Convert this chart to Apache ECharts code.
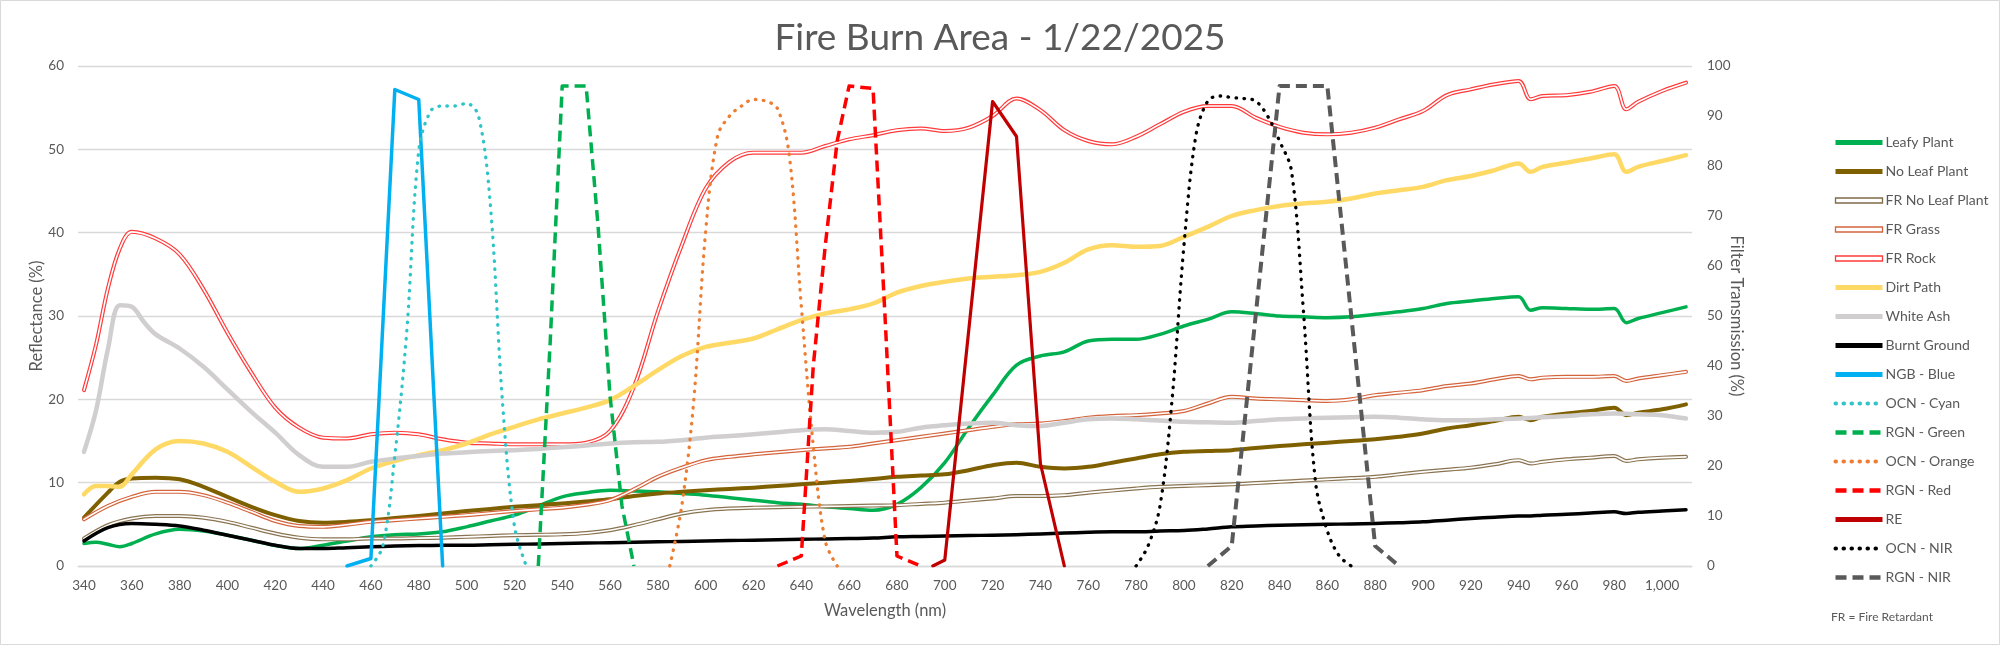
<!DOCTYPE html>
<html>
<head>
<meta charset="utf-8">
<script src="https://cdn.jsdelivr.net/npm/echarts@6/dist/echarts.min.js"></script>
<style>
html,body{margin:0;padding:0;background:#fff;}
#chart{width:2000px;height:645px;}
</style>
</head>
<body>
<div id="chart"></div>
<script>
// ---------- categories (wavelength, nm) ----------
const wavelengths = [];
for (let w = 340; w <= 1010; w += 5) wavelengths.push(String(w));

// ---------- reflectance series (%), [nm, value] ----------
const leafyPlant = [[340,2.7],[345,2.85],[350,2.6],[355,2.3],[360,2.7],[370,3.85],[380,4.4],[390,4.2],[400,3.7],[410,3.1],[420,2.45],[430,2.1],[440,2.5],[450,3.0],[460,3.5],[470,3.75],[480,3.85],[490,4.1],[500,4.7],[510,5.4],[520,6.1],[530,7.2],[540,8.3],[550,8.8],[560,9.1],[570,9.0],[580,8.9],[590,8.7],[600,8.5],[610,8.2],[620,7.9],[630,7.6],[640,7.4],[650,7.1],[660,6.9],[670,6.7],[680,7.4],[690,9.4],[700,12.4],[710,16.6],[720,20.5],[730,24.1],[740,25.2],[750,25.7],[760,27.0],[770,27.2],[780,27.2],[790,27.8],[800,28.8],[810,29.6],[820,30.5],[830,30.3],[840,30.0],[850,29.9],[860,29.8],[870,29.9],[880,30.2],[890,30.5],[900,30.9],[910,31.5],[920,31.8],[930,32.1],[940,32.3],[945,30.7],[950,31.0],[960,30.9],[970,30.8],[980,30.9],[985,29.2],[990,29.7],[1000,30.4],[1010,31.1]];
const noLeafPlant = [[340,5.8],[350,8.8],[355,10.1],[360,10.5],[370,10.6],[380,10.4],[390,9.5],[400,8.3],[410,7.1],[420,6.1],[430,5.4],[440,5.2],[450,5.3],[460,5.5],[470,5.75],[480,6.0],[490,6.3],[500,6.6],[510,6.85],[520,7.1],[530,7.3],[540,7.5],[550,7.75],[560,8.0],[570,8.4],[580,8.7],[590,8.9],[600,9.1],[610,9.25],[620,9.4],[630,9.6],[640,9.8],[650,10.0],[660,10.2],[670,10.45],[680,10.7],[690,10.85],[700,11.0],[710,11.5],[720,12.1],[730,12.4],[740,11.9],[750,11.7],[760,11.9],[770,12.4],[780,12.9],[790,13.4],[800,13.7],[810,13.8],[820,13.9],[830,14.15],[840,14.4],[850,14.6],[860,14.8],[870,15.0],[880,15.2],[890,15.5],[900,15.9],[910,16.5],[920,16.9],[930,17.4],[940,17.9],[945,17.5],[950,17.9],[960,18.3],[970,18.6],[980,19.0],[985,18.1],[990,18.4],[1000,18.8],[1010,19.4]];
const frNoLeafPlant = [[340,3.3],[350,4.9],[360,5.7],[370,6.0],[380,6.0],[390,5.8],[400,5.3],[410,4.6],[420,3.9],[430,3.4],[440,3.2],[450,3.2],[460,3.3],[470,3.3],[480,3.35],[490,3.4],[500,3.5],[510,3.6],[520,3.7],[530,3.75],[540,3.8],[550,3.95],[560,4.3],[570,4.9],[580,5.6],[590,6.3],[600,6.7],[610,6.9],[620,7.0],[630,7.05],[640,7.1],[650,7.15],[660,7.2],[670,7.25],[680,7.3],[690,7.45],[700,7.6],[710,7.85],[720,8.1],[730,8.4],[740,8.4],[750,8.5],[760,8.8],[770,9.05],[780,9.3],[790,9.5],[800,9.6],[810,9.7],[820,9.8],[830,9.95],[840,10.1],[850,10.25],[860,10.4],[870,10.55],[880,10.7],[890,11.0],[900,11.3],[910,11.55],[920,11.8],[930,12.2],[940,12.7],[945,12.3],[950,12.5],[960,12.8],[970,13.0],[980,13.2],[985,12.6],[990,12.8],[1000,13.0],[1010,13.1]];
const frGrass = [[340,5.6],[350,7.2],[360,8.3],[370,8.9],[380,8.9],[390,8.5],[400,7.6],[410,6.5],[420,5.4],[430,4.8],[440,4.7],[450,4.95],[460,5.3],[470,5.5],[480,5.7],[490,5.9],[500,6.1],[510,6.35],[520,6.6],[530,6.8],[540,7.0],[550,7.35],[560,7.9],[570,9.2],[580,10.7],[590,11.8],[600,12.7],[610,13.1],[620,13.4],[630,13.65],[640,13.9],[650,14.1],[660,14.3],[670,14.7],[680,15.1],[690,15.5],[700,15.9],[710,16.3],[720,16.7],[730,17.0],[740,17.1],[750,17.4],[760,17.8],[770,18.0],[780,18.1],[790,18.3],[800,18.6],[810,19.5],[820,20.3],[830,20.1],[840,20.0],[850,19.9],[860,19.8],[870,20.0],[880,20.5],[890,20.8],[900,21.1],[910,21.6],[920,21.9],[930,22.4],[940,22.8],[945,22.4],[950,22.6],[960,22.7],[970,22.7],[980,22.8],[985,22.2],[990,22.5],[1000,22.9],[1010,23.3]];
const frRock = [[340,21.1],[345,26.5],[350,33.3],[355,38.1],[360,40.1],[370,39.3],[380,37.4],[390,33.2],[400,28.0],[410,23.2],[420,19.0],[430,16.6],[440,15.4],[450,15.3],[460,15.8],[470,16.0],[480,15.8],[490,15.2],[500,14.8],[510,14.7],[520,14.6],[530,14.6],[540,14.6],[550,14.8],[560,16.2],[570,21.5],[580,30.5],[590,38.5],[600,45.3],[610,48.5],[620,49.6],[630,49.6],[640,49.6],[650,50.4],[660,51.2],[670,51.7],[680,52.3],[690,52.5],[700,52.2],[710,52.6],[720,54.0],[730,56.1],[740,54.7],[750,52.3],[760,51.0],[770,50.6],[780,51.5],[790,53.0],[800,54.5],[810,55.2],[820,55.2],[830,53.8],[840,52.7],[850,52.0],[860,51.8],[870,52.0],[880,52.6],[890,53.6],[900,54.6],[910,56.5],[920,57.2],[930,57.8],[940,58.2],[945,56.0],[950,56.4],[960,56.5],[970,56.9],[980,57.6],[985,54.8],[990,55.7],[1000,57.0],[1010,58.0]];
const dirtPath = [[340,8.6],[345,9.6],[350,9.6],[355,9.5],[360,11.0],[370,14.0],[380,15.0],[390,14.7],[400,13.7],[410,11.9],[420,10.1],[430,8.9],[440,9.3],[450,10.3],[460,11.7],[470,12.6],[480,13.3],[490,13.9],[500,14.7],[510,15.8],[520,16.7],[530,17.6],[540,18.3],[550,19.0],[560,19.9],[570,21.6],[580,23.5],[590,25.2],[600,26.3],[610,26.8],[620,27.3],[630,28.4],[640,29.5],[650,30.3],[660,30.8],[670,31.5],[680,32.8],[690,33.6],[700,34.1],[710,34.5],[720,34.7],[730,34.9],[740,35.3],[750,36.4],[760,38.0],[770,38.5],[780,38.3],[790,38.4],[800,39.5],[810,40.7],[820,42.0],[830,42.7],[840,43.2],[850,43.5],[860,43.7],[870,44.1],[880,44.7],[890,45.1],[900,45.5],[910,46.3],[920,46.8],[930,47.5],[940,48.3],[945,47.3],[950,47.9],[960,48.4],[970,48.9],[980,49.4],[985,47.3],[990,47.9],[1000,48.6],[1010,49.3]];
const whiteAsh = [[340,13.7],[345,18.6],[350,26.0],[355,31.3],[360,31.1],[365,29.3],[370,27.8],[380,26.1],[390,23.9],[400,21.2],[410,18.5],[420,16.0],[430,13.3],[440,11.9],[450,11.9],[460,12.5],[470,12.9],[480,13.2],[490,13.5],[500,13.65],[510,13.8],[520,13.9],[530,14.05],[540,14.25],[550,14.45],[560,14.7],[570,14.85],[580,14.9],[590,15.1],[600,15.4],[610,15.6],[620,15.8],[630,16.05],[640,16.3],[650,16.4],[660,16.2],[670,16.0],[680,16.1],[690,16.6],[700,16.9],[710,17.1],[720,17.2],[730,16.9],[740,16.8],[750,17.2],[760,17.6],[770,17.7],[780,17.6],[790,17.45],[800,17.3],[810,17.25],[820,17.2],[830,17.4],[840,17.6],[850,17.7],[860,17.8],[870,17.85],[880,17.9],[890,17.8],[900,17.6],[910,17.5],[920,17.5],[930,17.6],[940,17.7],[950,17.85],[960,18.0],[970,18.2],[980,18.3],[990,18.2],[1000,18.1],[1010,17.7]];
const burntGround = [[340,3.0],[350,4.6],[360,5.1],[370,5.0],[380,4.8],[390,4.3],[400,3.7],[410,3.1],[420,2.5],[430,2.1],[440,2.1],[450,2.2],[460,2.3],[470,2.4],[480,2.45],[490,2.5],[500,2.5],[510,2.55],[520,2.6],[530,2.65],[540,2.7],[550,2.75],[560,2.8],[570,2.85],[580,2.9],[590,2.95],[600,3.0],[610,3.05],[620,3.1],[630,3.15],[640,3.2],[650,3.25],[660,3.3],[670,3.35],[680,3.5],[690,3.55],[700,3.6],[710,3.65],[720,3.7],[730,3.75],[740,3.85],[750,3.95],[760,4.05],[770,4.1],[780,4.1],[790,4.2],[800,4.25],[810,4.45],[820,4.7],[830,4.8],[840,4.9],[850,4.95],[860,5.0],[870,5.05],[880,5.1],[890,5.2],[900,5.3],[910,5.5],[920,5.7],[930,5.85],[940,6.0],[945,6.0],[950,6.1],[960,6.2],[970,6.35],[980,6.5],[985,6.3],[990,6.45],[1000,6.6],[1010,6.75]];

// ---------- filter transmission series (%), [nm, value] ----------
const ngbBlue = [[450,0],[460,1.5],[470,95.3],[480,93.3],[490,0]];
const ocnCyan = [[460,0],[465,4],[470,22],[475,47],[480,83],[485,91],[490,92],[495,92],[500,92.5],[505,90],[510,72],[515,33],[520,8],[525,0]];
const rgnGreen = [[530,0],[535,45],[540,96],[545,96],[550,96],[555,68],[560,34],[565,12],[570,0]];
const ocnOrange = [[585,0],[590,12],[595,33],[600,67],[605,86],[610,90],[615,92],[620,93.3],[625,93],[630,91.5],[635,82],[640,52],[645,24],[650,5],[655,0]];
const rgnRed = [[630,0],[640,2],[645,40],[650,64],[655,85],[660,96],[670,95.5],[675,50],[680,2],[690,0]];
const reBand = [[695,0],[700,1.2],[720,92.9],[730,85.9],[740,20.5],[750,0]];
const ocnNir = [[780,0],[785,4],[790,12],[795,33],[800,64],[805,86],[810,93],[815,94],[820,93.7],[825,93.5],[830,93],[835,90],[840,85],[845,79],[850,51],[855,17],[860,7],[865,2],[870,0]];
const rgnNir = [[810,0],[820,4],[840,96],[850,96],[860,96],[880,4],[890,0]];

// ---------- tick labels ----------
const leftTicks = [0, 10, 20, 30, 40, 50, 60];
const rightTicks = [0, 10, 20, 30, 40, 50, 60, 70, 80, 90, 100];

const FONT = 'Lato, "Open Sans", sans-serif';
const GREY = '#595959';
const toCat = arr => arr.map(p => [String(p[0]), p[1]]);

function line(name, data, color, width, opts) {
  opts = opts || {};
  return Object.assign({
    name: name,
    type: 'line',
    data: toCat(data),
    yAxisIndex: opts.yAxisIndex || 0,
    showSymbol: false,
    symbol: 'none',
    smooth: opts.smooth === undefined ? 0.35 : opts.smooth,
    lineStyle: Object.assign({ color: color, width: width, cap: 'round', join: 'round' }, opts.lineStyle || {}),
    itemStyle: { color: color },
    emphasis: { disabled: true },
    animation: false,
    z: opts.z || 2
  }, opts.extra || {});
}
function inner(name, data, width) {
  return line(name + '\u200b', data, '#ffffff', width, { extra: { silent: true, legendHoverLink: false } });
}

const DOT = [0.5, 7.5];
const DASH = [11, 6];

const series = [
  line('Leafy Plant', leafyPlant, '#00b050', 3.5),
  line('No Leaf Plant', noLeafPlant, '#7f6000', 4),
  line('FR No Leaf Plant', frNoLeafPlant, '#8a7350', 4),
  inner('FR No Leaf Plant', frNoLeafPlant, 1.6),
  line('FR Grass', frGrass, '#d4643c', 4),
  inner('FR Grass', frGrass, 1.6),
  line('FR Rock', frRock, '#ff3b3b', 4),
  inner('FR Rock', frRock, 1.6),
  line('Dirt Path', dirtPath, '#ffd966', 4.5),
  line('White Ash', whiteAsh, '#d0cece', 4.5),
  line('Burnt Ground', burntGround, '#000000', 3.5),
  line('NGB - Blue', ngbBlue, '#00b0f0', 3.5, { yAxisIndex: 1, smooth: false, z: 3 }),
  line('OCN - Cyan', ocnCyan, '#2ec4c8', 3.3, { yAxisIndex: 1, smooth: 0.35, z: 3, lineStyle: { type: DOT, cap: 'round' } }),
  line('RGN - Green', rgnGreen, '#00b050', 3.5, { yAxisIndex: 1, smooth: false, z: 3, lineStyle: { type: DASH, cap: 'butt' } }),
  line('OCN - Orange', ocnOrange, '#ed7d31', 3.3, { yAxisIndex: 1, smooth: 0.35, z: 3, lineStyle: { type: DOT, cap: 'round' } }),
  line('RGN - Red', rgnRed, '#ff0000', 3.5, { yAxisIndex: 1, smooth: false, z: 3, lineStyle: { type: DASH, cap: 'butt' } }),
  line('RE', reBand, '#c00000', 3.2, { yAxisIndex: 1, smooth: false, z: 3 }),
  line('OCN - NIR', ocnNir, '#000000', 3.3, { yAxisIndex: 1, smooth: 0.35, z: 3, lineStyle: { type: DOT, cap: 'round' } }),
  line('RGN - NIR', rgnNir, '#595959', 4, { yAxisIndex: 1, smooth: false, z: 3, lineStyle: { type: DASH, cap: 'butt' } })
];

const solid = name => ({ name: name, lineStyle: { width: 5, cap: 'butt' } });
const patt = (name, w) => ({ name: name, lineStyle: { width: w } });
const dbl = (name, c) => ({ name: name, icon: 'rect', itemStyle: { color: '#ffffff', borderColor: c, borderWidth: 1.3, opacity: 1 } });
const legendData = [
  solid('Leafy Plant'), solid('No Leaf Plant'),
  dbl('FR No Leaf Plant', '#7f6a45'), dbl('FR Grass', '#d4643c'), dbl('FR Rock', '#ff3b3b'),
  solid('Dirt Path'), solid('White Ash'), solid('Burnt Ground'), solid('NGB - Blue'),
  patt('OCN - Cyan', 4), patt('RGN - Green', 4.5),
  patt('OCN - Orange', 4), patt('RGN - Red', 4.5), solid('RE'), patt('OCN - NIR', 4), patt('RGN - NIR', 4.5)
];

const chart = echarts.init(document.getElementById('chart'), null, { renderer: 'canvas' });
chart.setOption({
  animation: false,
  backgroundColor: '#ffffff',
  title: {
    text: 'Fire Burn Area - 1/22/2025',
    left: 'center',
    top: 15,
    textStyle: { fontFamily: FONT, fontSize: 37, fontWeight: 'normal', color: GREY }
  },
  legend: {
    orient: 'vertical',
    left: 1828,
    top: 128.5,
    itemWidth: 47,
    itemHeight: 5,
    itemGap: 11.0,
    selectedMode: false,
    data: legendData,
    itemStyle: { opacity: 0 },
    textStyle: { fontFamily: FONT, fontSize: 14, color: GREY, lineHeight: 18, padding: [0, 0, 0, -2] }
  },
  graphic: [
    { type: 'rect', shape: { x: 0.5, y: 0.5, width: 1999, height: 644 }, style: { fill: null, stroke: '#d9d9d9', lineWidth: 1 }, silent: true },
    { type: 'text', left: 1831, top: 611, style: { text: 'FR = Fire Retardant', fontFamily: FONT, fontSize: 12, fill: GREY } }
  ],
  grid: { left: 78, right: 308, top: 66, bottom: 79, containLabel: false },
  xAxis: {
    type: 'category',
    data: wavelengths,
    boundaryGap: true,
    name: 'Wavelength (nm)',
    nameLocation: 'middle',
    nameMoveOverlap: false,
    nameGap: 36,
    nameTextStyle: { fontFamily: FONT, fontSize: 16.5, color: GREY },
    axisLine: { lineStyle: { color: '#d9d9d9', width: 1.3 } },
    axisTick: { show: false },
    axisLabel: {
      interval: 3,
      margin: 13,
      fontFamily: FONT, fontSize: 13.5, color: GREY,
      formatter: v => Number(v).toLocaleString('en-US')
    },
    splitLine: { show: false }
  },
  yAxis: [
    {
      type: 'value',
      min: leftTicks[0], max: leftTicks[leftTicks.length - 1], interval: 10,
      name: 'Reflectance (%)',
      nameLocation: 'middle',
      nameMoveOverlap: false,
      nameGap: 33,
      nameTextStyle: { fontFamily: FONT, fontSize: 16.5, color: GREY },
      axisLine: { show: false },
      axisTick: { show: false },
      axisLabel: { margin: 14, fontFamily: FONT, fontSize: 13.5, color: GREY },
      splitLine: { lineStyle: { color: '#d9d9d9', width: 1.3 } }
    },
    {
      type: 'value',
      position: 'right',
      min: rightTicks[0], max: rightTicks[rightTicks.length - 1], interval: 10,
      name: 'Filter Transmission (%)',
      nameLocation: 'middle',
      nameMoveOverlap: false,
      nameRotate: -90,
      nameGap: 36,
      nameTextStyle: { fontFamily: FONT, fontSize: 16.5, color: GREY },
      axisLine: { show: false },
      axisTick: { show: false },
      axisLabel: { margin: 15, fontFamily: FONT, fontSize: 13.5, color: GREY },
      splitLine: { show: false }
    }
  ],
  series: series
});
</script>
</body>
</html>
